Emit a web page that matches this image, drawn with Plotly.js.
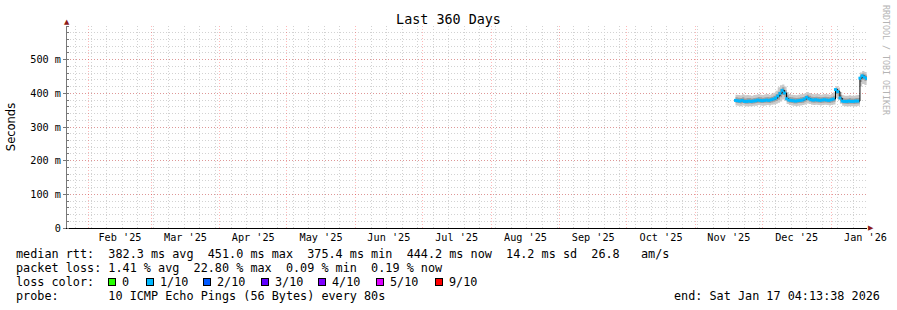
<!DOCTYPE html>
<html>
<head>
<meta charset="utf-8">
<script src="https://cdn.plot.ly/plotly-3.0.1.min.js"></script>
<style>html,body{margin:0;padding:0;background:#fff}#chart{width:897px;height:310px}</style>
</head>
<body>
<div id="chart"></div>
<script>
// ---- data (values in ms) ----
const dates = [
 '2025-11-19','2025-11-20','2025-11-21','2025-11-22','2025-11-23','2025-11-24','2025-11-25','2025-11-26','2025-11-27','2025-11-28','2025-11-29','2025-11-30',
 '2025-12-01','2025-12-02','2025-12-03','2025-12-04','2025-12-05','2025-12-06','2025-12-07','2025-12-08','2025-12-09','2025-12-10','2025-12-11','2025-12-12',
 '2025-12-13','2025-12-14','2025-12-15','2025-12-16','2025-12-17','2025-12-18','2025-12-19','2025-12-20','2025-12-21','2025-12-22','2025-12-23','2025-12-24',
 '2025-12-25','2025-12-26','2025-12-27','2025-12-28','2025-12-29','2025-12-30','2025-12-31',
 '2026-01-01','2026-01-02','2026-01-03','2026-01-04','2026-01-05','2026-01-06','2026-01-07','2026-01-08','2026-01-09','2026-01-10','2026-01-11','2026-01-12',
 '2026-01-13','2026-01-14','2026-01-15','2026-01-16','2026-01-17'
];
const medianRtt = [
 379,378,377,379,376,376,377,376,377,378,380,379,
 378,379,380,379,381,383,386,392,400,409,401,384,
 380,379,378,377,378,379,380,383,388,384,381,380,
 381,380,379,380,381,380,379,
 381,383,411,405,386,377,376,376,377,376,376,377,
 377,445,452,448,444
];
const smokeMin = [
 364,363,362,364,362,361,362,362,363,363,365,364,
 363,364,365,364,366,367,369,372,376,382,378,368,
 365,364,363,362,363,364,365,367,370,368,366,365,
 366,365,364,365,366,365,364,
 365,367,386,382,369,363,362,361,362,362,361,362,
 363,420,428,425,422
];
const smokeLow = [
 372,371,370,371,369,369,370,369,370,371,372,371,
 371,372,372,371,373,375,377,381,388,395,389,376,
 372,371,370,370,371,371,372,375,379,376,373,372,
 373,372,371,372,373,372,371,
 373,375,398,392,377,370,369,368,369,369,368,369,
 370,434,440,437,434
];
const smokeHigh = [
 388,387,386,388,385,386,386,385,386,387,389,388,
 387,388,389,388,390,393,397,404,412,418,410,394,
 389,388,387,386,387,388,389,392,396,393,390,389,
 390,389,388,389,390,389,388,
 390,393,415,410,395,386,385,385,386,385,385,386,
 386,454,459,456,452
];
const smokeMax = [
 396,395,394,397,394,395,394,393,395,396,398,396,
 395,397,398,396,399,402,408,418,424,426,420,404,
 398,396,395,394,396,397,398,400,404,401,398,397,
 399,398,396,397,398,397,396,
 399,403,421,417,404,394,393,393,394,393,393,394,
 395,462,466,463,459
];
// loss bucket index per day (index into lossLabels / lossColors)
const lossIdx = [
 1,1,1,1,1,1,1,1,1,1,1,1,
 1,1,1,1,1,1,1,1,1,1,1,1,
 1,1,1,1,1,1,1,1,1,1,1,1,
 1,1,1,1,1,1,1,
 1,1,1,1,1,1,1,1,1,1,1,1,
 1,1,1,1,1
];
const lossLabels = ['0','1/10','2/10','3/10','4/10','5/10','9/10'];
const lossColors = ['#26ff00','#00b8ff','#0059ff','#5e00ff','#7e00ff','#dd00ff','#ff0000'];

const yTickVals = [0,100,200,300,400,500];
const yTickText = ['0','100 m','200 m','300 m','400 m','500 m'];
const rangeStart = '2025-01-22 04:13:38';
const rangeEnd = '2026-01-17 04:13:38';

const legendLines = [
 'median rtt:  382.3 ms avg  451.0 ms max  375.4 ms min  444.2 ms now  14.2 ms sd  26.8   am/s',
 'packet loss: 1.41 % avg  22.80 % max  0.09 % min  0.19 % now',
 'loss color:',
 'probe:       10 ICMP Echo Pings (56 Bytes) every 80s'
];
const endText = 'end: Sat Jan 17 04:13:38 2026';

// ---- layout helpers (pixel -> paper) ----
const L = 67, R = 867, T = 26, B = 228;
const px = x => (x - L) / (R - L);
const py = y => (B - y) / (B - T);
const MONO = 'DejaVu Sans Mono';

const traces = [
 {x: dates, y: smokeMin, type:'scatter', mode:'lines', line:{width:0, shape:'hv'}, hoverinfo:'skip'},
 {x: dates, y: smokeMax, type:'scatter', mode:'lines', line:{width:0, shape:'hv'}, fill:'tonexty', fillcolor:'#cacaca', hoverinfo:'skip'},
 {x: dates, y: smokeLow, type:'scatter', mode:'lines', line:{width:0, shape:'hv'}, hoverinfo:'skip'},
 {x: dates, y: smokeHigh, type:'scatter', mode:'lines', line:{width:0, shape:'hv'}, fill:'tonexty', fillcolor:'#a0a0a0', hoverinfo:'skip'},
 {x: dates, y: medianRtt, type:'scatter', mode:'lines', line:{width:1, color:'#000', shape:'hv'}, hoverinfo:'skip'},
 {x: dates, y: medianRtt, type:'scatter', mode:'markers',
  marker:{symbol:'square', size:3, color: lossIdx.map(i => lossColors[i]), line:{width:0}}, hoverinfo:'skip'}
];

const annotations = [];
const lineY = [254, 268, 282, 296];
legendLines.forEach((t, i) => {
 annotations.push({text: t.replace(/ /g, '\u00a0'), xref:'paper', yref:'paper', x: px(15), y: py(lineY[i]),
   xanchor:'left', yanchor:'middle', showarrow:false, font:{family:MONO, size:11.8, color:'#000'}, borderpad:0});
});
const boxX = [108, 146, 203, 261, 318, 376, 435];
lossLabels.forEach((lab, i) => {
 annotations.push({text:'\u00a0', xref:'paper', yref:'paper', x: px(boxX[i]), y: py(282), xanchor:'left', yanchor:'middle',
   showarrow:false, width:6, height:6, bgcolor: lossColors[i], bordercolor:'#000', borderwidth:1, borderpad:0, font:{size:4}});
 annotations.push({text: lab, xref:'paper', yref:'paper', x: px(boxX[i] + 13), y: py(282), xanchor:'left', yanchor:'middle',
   showarrow:false, font:{family:MONO, size:11.8, color:'#000'}, borderpad:0});
});
annotations.push({text: endText.replace(/ /g, '\u00a0'), xref:'paper', yref:'paper', x: px(881), y: py(296), xanchor:'right', yanchor:'middle',
 showarrow:false, font:{family:MONO, size:11.8, color:'#000'}, borderpad:0});
annotations.push({text: 'RRDTOOL / TOBI OETIKER', xref:'paper', yref:'paper', x: px(886), y: py(60), xanchor:'center', yanchor:'middle',
 textangle:90, showarrow:false, font:{family:MONO, size:8.3, color:'#b4b4b4'}});
annotations.push({text:'\u25B2', xref:'paper', yref:'paper', x: px(67), y: py(22), xanchor:'center', yanchor:'middle',
 showarrow:false, font:{family:'DejaVu Sans', size:7, color:'#8b1a1a'}});
annotations.push({text:'\u25B6', xref:'paper', yref:'paper', x: px(871), y: py(228), xanchor:'center', yanchor:'middle',
 showarrow:false, font:{family:'DejaVu Sans', size:7, color:'#8b1a1a'}});

const layout = {
 width: 897, height: 310,
 margin: {l: L, r: 897 - R, t: T, b: 310 - B},
 paper_bgcolor:'#fff', plot_bgcolor:'#fff',
 showlegend:false,
 title: {text:'Last 360 Days', x:0.5, xanchor:'center', y: 1 - 19/310, yanchor:'middle',
   font:{family:MONO, size:13.4, color:'#000'}},
 xaxis: {
  type:'date', range:[rangeStart, rangeEnd], fixedrange:true,
  tickmode:'linear', tick0:'2025-01-01', dtick:'M1', tickformat:"%b '%y", ticklabelmode:'period',
  ticks:'', tickfont:{family:MONO, size:10.2, color:'#000'},
  showgrid:true, gridcolor:'rgba(255,0,0,0.28)', griddash:'1px,2px', gridwidth:1,
  minor:{dtick: 7*86400000, tick0:'2025-01-26', showgrid:true, gridcolor:'#d2d2d2', griddash:'1px,2px', gridwidth:1, ticks:''},
  showline:true, linecolor:'#000', linewidth:1, zeroline:false
 },
 yaxis: {
  range:[0, 600], fixedrange:true,
  tickmode:'array', tickvals: yTickVals, ticktext: yTickText,
  ticks:'outside', ticklen:3, tickcolor:'#777', tickfont:{family:MONO, size:10.2, color:'#000'},
  showgrid:true, gridcolor:'rgba(255,0,0,0.28)', griddash:'1px,2px', gridwidth:1,
  minor:{dtick:20, showgrid:true, gridcolor:'#d2d2d2', griddash:'1px,2px', gridwidth:1, ticks:'inside', ticklen:2, tickcolor:'#777'},
  showline:true, linecolor:'#777', linewidth:1, zeroline:false,
  title:{text:'Seconds', standoff:12, font:{family:'DejaVu Sans', size:11.5, color:'#000'}}
 },
 annotations: annotations
};

Plotly.newPlot('chart', traces, layout, {staticPlot:true, displayModeBar:false});
</script>
</body>
</html>
